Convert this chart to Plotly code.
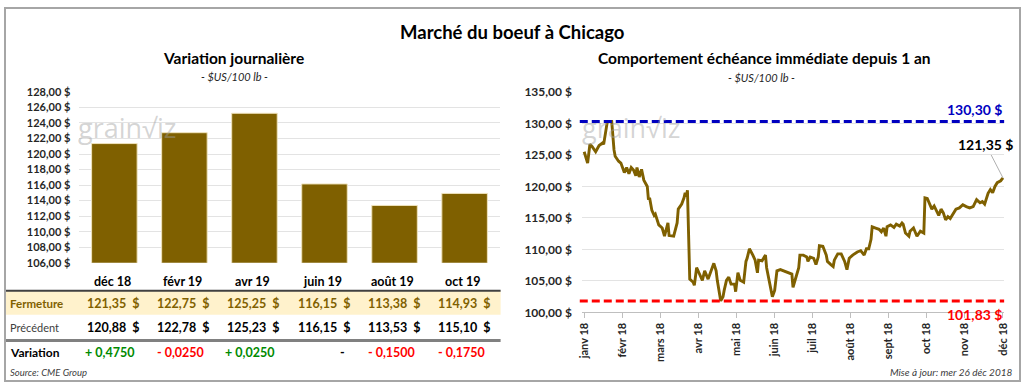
import plotly.graph_objects as go
import pandas as pd

W, H = 1024, 388
FONT = "Lato"
GOLD = "#7f6000"

# ---------------- data ----------------
contracts = ["déc 18", "févr 19", "avr 19", "juin 19", "août 19", "oct 19"]
fermeture = [121.35, 122.75, 125.25, 116.15, 113.38, 114.93]
precedent = [120.88, 122.78, 125.23, 116.15, 113.53, 115.10]
variation = [0.4750, -0.0250, 0.0250, 0.0, -0.1500, -0.1750]

start_date = "2017-12-26"
end_date = "2018-12-26"
day_offsets = [0, 3, 5, 7, 10, 13, 16, 17, 20, 21, 24, 25, 26, 27, 30, 32, 35, 37, 39, 41,
               43, 45, 46, 48, 50, 52, 55, 56, 57, 59, 61, 62, 65, 68, 70, 73, 74, 78, 81, 82,
               85, 87, 88, 89, 90, 92, 95, 96, 98, 100, 103, 105, 108, 110, 113, 115, 116, 119, 121, 122,
               124, 126, 128, 131, 132, 134, 136, 139, 141, 142, 144, 147, 149, 151, 152, 155, 158, 159, 162, 164,
               166, 168, 171, 174, 178, 181, 182, 184, 187, 188, 191, 194, 195, 197, 200, 202, 204, 205, 208, 211,
               212, 215, 217, 218, 221, 224, 227, 229, 231, 234, 238, 241, 244, 246, 248, 250, 251, 254, 257, 259,
               261, 263, 264, 267, 270, 272, 275, 277, 278, 280, 283, 284, 287, 290, 293, 296, 297, 299, 301, 303,
               305, 307, 309, 311, 313, 315, 317, 319, 322, 324, 327, 330, 333, 336, 339, 342, 345, 347, 349, 352,
               354, 356, 358, 360, 363, 365]
prices = [125.5, 123.7, 126.7, 126.3, 125.5, 126.5, 126.9, 126.7, 130.1, 130.3, 130.3, 127.5, 125.8, 124.8, 124.0, 123.7, 122.2, 123.0, 122.0, 123.0,
          122.6, 121.7, 123.0, 121.5, 122.7, 121.0, 120.0, 117.9, 118.2, 116.2, 115.4, 115.6, 113.9, 113.4, 112.1, 114.2, 112.2, 112.1, 114.2, 116.4,
          117.2, 118.2, 119.0, 118.4, 119.4, 105.3, 104.8, 104.3, 107.1, 106.3, 105.1, 106.6, 105.3, 106.3, 107.8, 106.6, 105.1, 101.83, 102.5, 103.5,
          105.1, 105.6, 104.5, 104.5, 103.3, 106.3, 105.1, 104.8, 108.1, 108.6, 110.1, 109.1, 108.3, 106.3, 108.3, 108.2, 109.1, 107.1, 104.0, 102.5,
          103.5, 106.6, 106.8, 106.6, 106.3, 106.1, 104.0, 105.3, 107.1, 109.1, 109.1, 108.8, 108.1, 108.8, 108.6, 107.6, 108.8, 110.6, 110.5, 109.1,
          108.1, 107.6, 107.3, 108.3, 109.3, 109.3, 108.1, 106.8, 108.6, 109.1, 109.6, 109.8, 109.1, 110.1, 110.1, 111.6, 113.6, 113.4, 113.2, 112.8,
          113.4, 112.1, 113.6, 113.9, 113.5, 114.0, 113.7, 114.2, 114.0, 112.6, 112.1, 112.9, 113.4, 112.1, 112.9, 112.6, 118.2, 118.1, 117.2, 116.4,
          116.9, 116.2, 115.4, 116.4, 115.8, 114.7, 115.2, 114.9, 115.7, 116.4, 116.6, 117.1, 116.8, 116.6, 116.8, 117.9, 117.4, 117.6, 117.2, 118.9,
          119.5, 119.0, 120.0, 120.6, 120.9, 121.35]
month_labels = ["janv 18", "févr 18", "mars 18", "avr 18", "mai 18", "juin 18",
                "juil 18", "août 18", "sept 18", "oct 18", "nov 18", "déc 18"]
high_1y = 130.30
low_1y = 101.83
last_price = 121.35
assert len(day_offsets) == len(prices)

# ---------------- helpers ----------------
def px_x(p):
    return p / W

def px_y(p):
    return 1 - p / H

def fr(v, d=2):
    return f"{v:.{d}f}".replace(".", ",")

def fvar(v):
    if v == 0:
        return "-"
    return ("+ " if v > 0 else "- ") + fr(abs(v), 4)

def label(text, x, y, size, color="black", xanchor="center", yanchor="middle", **kw):
    d = dict(text=text, x=x, y=y, xref="paper", yref="paper", xanchor=xanchor, yanchor=yanchor,
             showarrow=False, font=dict(size=size, color=color))
    d.update(kw)
    return d

t0 = pd.Timestamp(start_date)
t1 = pd.Timestamp(end_date)
dates = [t0 + pd.Timedelta(days=d) for d in day_offsets]
span = (t1 - t0) / (len(month_labels) - 1)
tick_dates = [t0 + span * i for i in range(len(month_labels))]

fig = go.Figure()

fig.add_trace(go.Bar(
    x=contracts, y=fermeture, marker=dict(color=GOLD, line=dict(color="#efe3bd", width=1)),
    xaxis="x", yaxis="y", hoverinfo="skip", showlegend=False))

fig.add_trace(go.Scatter(
    x=dates, y=prices, mode="lines", line=dict(color=GOLD, width=2.9),
    xaxis="x2", yaxis="y2", hoverinfo="skip", showlegend=False))

ann = []
shapes = []

# titles
ann.append(label("<b>Marché du boeuf à Chicago</b>", 0.5, px_y(25), 18.5))
ann.append(label("<b>Variation journalière</b>", px_x(231), px_y(52), 15.5))
ann.append(label("<i>- $US/100 lb -</i>", px_x(232), px_y(71), 11, "#262626"))
ann.append(label("<b>Comportement échéance immédiate depuis 1 an</b>", px_x(766), px_y(52), 15.5))
ann.append(label("<i>- $US/100 lb -</i>", px_x(763), px_y(72), 11, "#262626"))

# watermarks
for wx in (72, 580):
    d = label("grain√iz", px_x(wx), px_y(124), 27, "rgba(160,160,160,0.45)", xanchor="left")
    d["font"]["family"] = "Open Sans"
    ann.append(d)

# table
shapes.append(dict(type="rect", xref="paper", yref="paper", x0=0, x1=px_x(500), y0=px_y(319), y1=px_y(294),
                   fillcolor="#fff2cc", line=dict(width=0), layer="below"))
shapes.append(dict(type="line", xref="paper", yref="paper", x0=0, x1=px_x(500), y0=px_y(294), y1=px_y(294),
                   line=dict(color="#404040", width=2)))
shapes.append(dict(type="line", xref="paper", yref="paper", x0=0, x1=px_x(500), y0=px_y(346), y1=px_y(346),
                   line=dict(color="#808080", width=3)))

ann.append(label("<b>Fermeture</b>", px_x(3), px_y(307), 11.5, GOLD, xanchor="left"))
ann.append(label("Précédent", px_x(3), px_y(332), 11, "#404040", xanchor="left"))
ann.append(label("<b>Variation</b>", px_x(3), px_y(358), 12, "black", xanchor="left"))

for c, f, p, v in zip(contracts, fermeture, precedent, variation):
    ann.append(dict(text=f"<b>{c}</b>", x=c, y=px_y(285), xref="x", yref="paper", xshift=-2,
                    xanchor="center", yanchor="middle", showarrow=False, font=dict(size=12.5, color="black")))
    ann.append(dict(text=f"<b>{fr(f)}\u00a0\u00a0$</b>", x=c, y=px_y(307), xref="x", yref="paper",
                    xanchor="right", yanchor="middle", xshift=28, showarrow=False,
                    font=dict(size=12.5, color=GOLD)))
    ann.append(dict(text=f"<b>{fr(p)}\u00a0\u00a0$</b>", x=c, y=px_y(332), xref="x", yref="paper",
                    xanchor="right", yanchor="middle", xshift=28, showarrow=False,
                    font=dict(size=12.5, color="black")))
    col = "#008a00" if v > 0 else ("#ff0000" if v < 0 else "black")
    ann.append(dict(text=f"<b>{fvar(v)}</b>", x=c, y=px_y(358), xref="x", yref="paper",
                    xanchor="right", yanchor="middle", xshift=22, showarrow=False,
                    font=dict(size=12.5, color=col)))

ann.append(label("<i>Source: CME Group</i>", px_x(3), px_y(379), 9.5, "#404040", xanchor="left"))
ann.append(label("<i>Mise à jour: mer 26 déc 2018</i>", px_x(1018), px_y(379), 10, "#404040", xanchor="right"))

# right chart reference lines
shapes.append(dict(type="line", xref="x2 domain", yref="y2", x0=-0.005, x1=1, y0=high_1y, y1=high_1y,
                   line=dict(color="#0000c0", width=3, dash="8px,4px")))
shapes.append(dict(type="line", xref="x2 domain", yref="y2", x0=-0.005, x1=1, y0=low_1y, y1=low_1y,
                   line=dict(color="#ff0000", width=3, dash="8px,4px")))
ann.append(dict(text=f"<b>{fr(high_1y)} $</b>", x=1, y=high_1y, xref="x2 domain", yref="y2", xanchor="right",
                yanchor="bottom", yshift=2, showarrow=False, font=dict(size=14, color="#0000c0")))
ann.append(dict(text=f"<b>{fr(low_1y)} $</b>", x=1, y=low_1y, xref="x2 domain", yref="y2", xanchor="right",
                yanchor="top", yshift=-3, showarrow=False, font=dict(size=14, color="#ff0000")))
ann.append(dict(text=f"<b>{fr(last_price)} $</b>", x=dates[-1], y=last_price, xref="x2", yref="y2",
                ax=-17, ay=-33, showarrow=True, arrowhead=0, arrowwidth=1, arrowcolor="#b0b0b0",
                font=dict(size=14, color="black")))

# border
shapes.append(dict(type="rect", xref="paper", yref="paper", x0=0, x1=1, y0=0, y1=1,
                   line=dict(color="#a6a6a6", width=2)))

fig.update_layout(
    width=W, height=H, margin=dict(l=0, r=0, t=0, b=0),
    paper_bgcolor="white", plot_bgcolor="white",
    font=dict(family=FONT, color="black"),
    separators=", ",
    bargap=0.35,
    annotations=ann, shapes=shapes,
    xaxis=dict(domain=[px_x(75), px_x(499)], showticklabels=False, showgrid=False, zeroline=False,
               showline=False, fixedrange=True),
    yaxis=dict(domain=[px_y(265), px_y(87.3)], range=[106, 128], dtick=2, tickformat=".2f",
               ticksuffix=" $", showgrid=True, gridcolor="#e3e3e3", gridwidth=1, zeroline=False,
               tickfont=dict(size=11, weight="bold", color="#262626"), ticklabelstandoff=8),
    xaxis2=dict(domain=[px_x(582), px_x(1008)], type="date",
                range=[t0 - pd.Timedelta(days=2), t1 + pd.Timedelta(days=1)],
                tickmode="array", tickvals=tick_dates, ticktext=month_labels, tickangle=-90,
                ticks="outside", ticklen=5, tickcolor="#bfbfbf", showline=True, linecolor="#bfbfbf",
                showgrid=False, zeroline=False, anchor="y2",
                tickfont=dict(size=11, weight="bold", color="#262626")),
    yaxis2=dict(domain=[px_y(316.7), px_y(87.3)], range=[100, 135], dtick=5, tickformat=".2f",
                ticksuffix=" $", showgrid=True, gridcolor="#e3e3e3", gridwidth=1, zeroline=False,
                anchor="x2", tickfont=dict(size=12, weight="bold", color="#262626"), ticklabelstandoff=9),
)

fig.write_html("out.html", config={"displayModeBar": False},
               post_script="document.body.style.margin='0';document.body.style.padding='0';")
